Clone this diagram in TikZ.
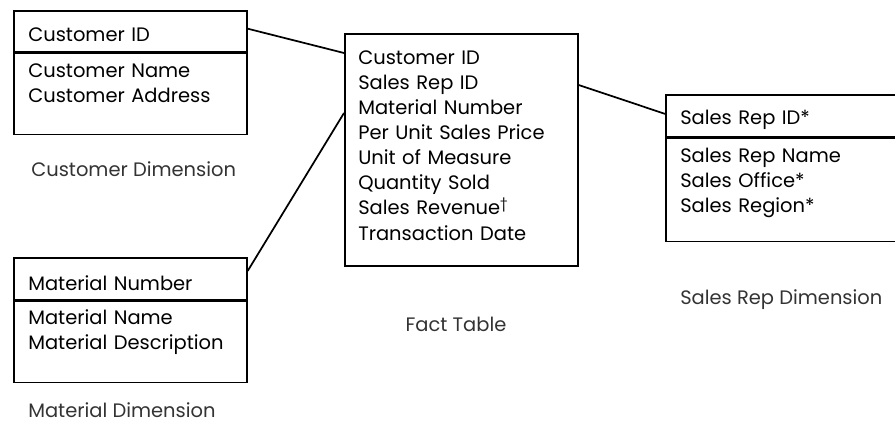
\documentclass[tikz,border=0pt]{standalone}
\usepackage{fontspec}
\setmainfont{Poppins}
\usepackage{tikz}
\usetikzlibrary{positioning}

\begin{document}
\begin{tikzpicture}[
    x=0.75pt, y=-0.75pt,
    box/.style={rectangle,draw,line width=1.3pt,anchor=north west,minimum width=174.75pt,inner sep=0pt},
    field/.style={anchor=base west,inner sep=0pt,text width=170pt,align=left,
        font=\fontsize{14.6}{18.75}\selectfont},
    caption/.style={anchor=base west,inner sep=0pt,text=black!80,
        font=\fontsize{14.6}{18.75}\selectfont},
    link/.style={line width=1.3pt}
]
\useasboundingbox (0,0) rectangle (895,424);

% customer dimension
\node[box,minimum height=30.75pt] (custkey) at (13,10) {};
\node[box,minimum height=60.75pt] (custbody) at (custkey.south west) {};
\node[field] (custid) at ([shift={(15,32)}]custkey.north west) {Customer ID};
\node[field] (custrest) at ([shift={(15,25)}]custbody.north west) {Customer Name\\Customer Address};
\node[caption] (custcap) at (31,176) {Customer Dimension};

% material dimension
\node[box,minimum height=31.5pt] (matkey) at (13,257) {};
\node[box,minimum height=60.75pt] (matbody) at (matkey.south west) {};
\node[field] (matid) at ([shift={(15,33)}]matkey.north west) {Material Number};
\node[field] (matrest) at ([shift={(15,24)}]matbody.north west) {Material Name\\Material Description};
\node[caption] (matcap) at (28,417) {Material Dimension};

% fact table
\node[box,minimum height=174pt] (fact) at (344,33) {};
\node[field] (factrows) at ([shift={(14,32)}]fact.north west) {Customer ID\\Sales Rep ID\\Material Number\\Per Unit Sales Price\\Unit of Measure\\Quantity Sold\\Sales Revenue\textsuperscript{\dag}\\Transaction Date};
\node[caption,anchor=base] (factcap) at (456,331) {Fact Table};

% sales rep dimension
\node[box,minimum height=31.5pt] (repkey) at (665,94) {};
\node[box,minimum height=77.25pt] (repbody) at (repkey.south west) {};
\node[field] (repid) at ([shift={(15,31)}]repkey.north west) {Sales Rep ID*};
\node[field] (represt) at ([shift={(15,25)}]repbody.north west) {Sales Rep Name\\Sales Office*\\Sales Region*};
\node[caption] (repcap) at (680,304) {Sales Rep Dimension};

\draw[link] ([yshift=2pt]custkey.east) -- ([yshift=-15pt]fact.north west);
\draw[link] ([yshift=-60pt]fact.north west) -- ([yshift=6pt]matkey.east);
\draw[link] ([yshift=-39pt]fact.north east) -- ([yshift=1.5pt]repkey.west);

\end{tikzpicture}
\end{document}
